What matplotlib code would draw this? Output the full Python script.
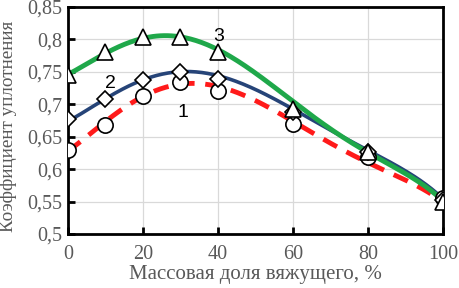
import matplotlib
matplotlib.use('Agg')
import matplotlib.pyplot as plt
import numpy as np

# binder mass fraction, %
x = [0, 10, 20, 30, 40, 60, 80, 100]
# compaction coefficient, measured points of curves 1..3
y1 = [0.630, 0.668, 0.713, 0.734, 0.720, 0.670, 0.619, 0.555]
y2 = [0.678, 0.708, 0.738, 0.750, 0.739, 0.688, 0.626, 0.553]
y3 = [0.745, 0.780, 0.803, 0.803, 0.780, 0.692, 0.627, 0.549]

# trend lines
xt = [0, 10, 20, 30, 40, 50, 60, 70, 80, 90, 100]
trend1 = [0.628, 0.673, 0.710, 0.735, 0.726, 0.705, 0.672, 0.641, 0.613, 0.580, 0.550]
trend2 = [0.674, 0.708, 0.737, 0.751, 0.746, 0.720, 0.692, 0.661, 0.631, 0.595, 0.555]
trend3 = [0.747, 0.775, 0.803, 0.808, 0.782, 0.745, 0.704, 0.665, 0.627, 0.590, 0.552]

yticks = [0.5, 0.55, 0.6, 0.65, 0.7, 0.75, 0.8, 0.85]
ytick_labels = ['0,5', '0,55', '0,6', '0,65', '0,7', '0,75', '0,8', '0,85']
xticks = [0, 20, 40, 60, 80, 100]

gray = '#595959'
serif = 'Liberation Serif'

fig = plt.figure(figsize=(4.59, 2.88), dpi=100)
ax = fig.add_axes([0.148, 0.1875, 0.817, 0.7885])

# smooth the trend lines
xs = np.linspace(0, 100, 200)
fit1 = np.polyval(np.polyfit(xt, trend1, 5), xs)
fit2 = np.polyval(np.polyfit(xt, trend2, 5), xs)
fit3 = np.polyval(np.polyfit(xt, trend3, 5), xs)

ax.plot(xs, fit1, color='#ff1a1a', lw=3.5, dashes=(3.2, 2.2), zorder=3)
ax.plot(xs, fit2, color='#264478', lw=2.6, zorder=3)
ax.plot(xs, fit3, color='#1fa84a', lw=3.5, zorder=3)

ax.plot(x, y1, 'o', ms=11, mfc='white', mec='black', mew=1.2, ls='none', zorder=4)
ax.plot(x, y2, 'D', ms=8, mfc='white', mec='black', mew=1.2, ls='none', zorder=5)
ax.plot(x, y3, '^', ms=12, mfc='white', mec='black', mew=1.2, ls='none', zorder=6)

ax.text(30.8, 0.687, '1', fontsize=14, family='Liberation Sans', ha='center', va='center')
ax.text(11.4, 0.732, '2', fontsize=14, family='Liberation Sans', ha='center', va='center')
ax.text(40.1, 0.805, '3', fontsize=14, family='Liberation Sans', ha='center', va='center')

ax.set_xlim(0, 100)
ax.set_ylim(0.5, 0.85)
ax.set_xticks(xticks)
ax.set_yticks(yticks)
ax.set_yticklabels(ytick_labels)
ax.grid(True, color='#d9d9d9', lw=0.9, zorder=0)
ax.set_axisbelow(True)

for s in ax.spines.values():
    s.set_linewidth(2)
    s.set_color('black')
ax.tick_params(direction='in', length=5, width=2, colors='black', labelcolor=gray, labelsize=14.5)
ax.tick_params(axis='x', pad=8)
ax.tick_params(axis='y', pad=4)
for lab in ax.get_xticklabels() + ax.get_yticklabels():
    lab.set_family(serif)

ax.set_xlabel('Массовая доля вяжущего, %', family=serif, fontsize=15, color=gray)
ax.xaxis.set_label_coords(0.5, -0.135)
ax.set_ylabel('Коэффициент уплотнения', family=serif, fontsize=13.8, color=gray)
ax.yaxis.set_label_coords(-0.135, 0.475)

fig.savefig('out.png', dpi=100)
